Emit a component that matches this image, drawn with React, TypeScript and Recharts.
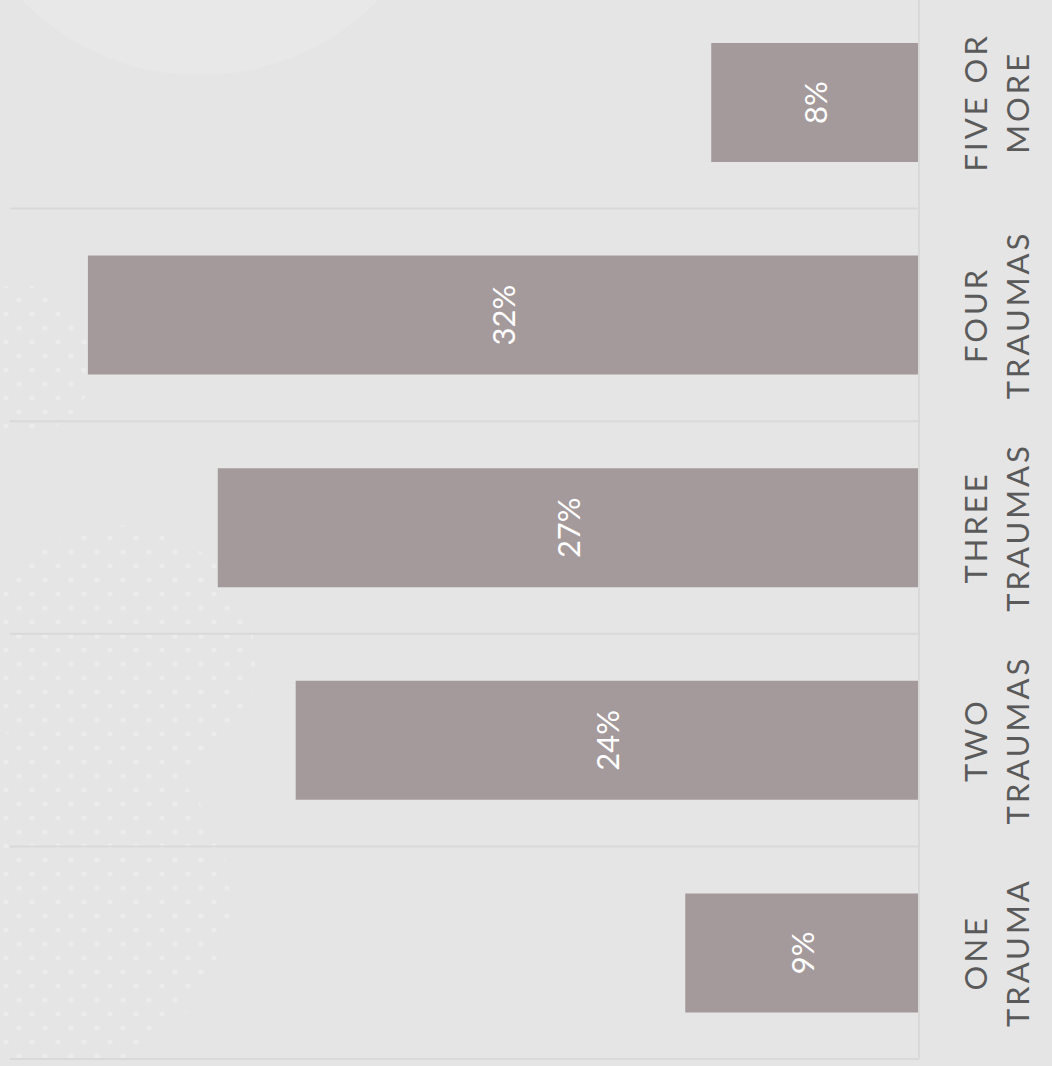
import { Bar, BarChart, CartesianGrid, LabelList, XAxis, YAxis } from "recharts";

const categories = ["ONE TRAUMA", "TWO TRAUMAS", "THREE TRAUMAS", "FOUR TRAUMAS", "FIVE OR MORE"];
const labelLines = [
  ["ONE", "TRAUMA"],
  ["TWO", "TRAUMAS"],
  ["THREE", "TRAUMAS"],
  ["FOUR", "TRAUMAS"],
  ["FIVE OR", "MORE"],
];
const shares = [9, 24, 27, 32, 8];

const data = categories.map((name, i) => ({ name, value: shares[i] }));

const FONT = "Lato, 'Open Sans', sans-serif";

const CategoryTick = (props: any) => {
  const { x, y, index } = props;
  const lines = labelLines[index] ?? [];
  return (
    <g transform={`translate(${x}, ${y}) rotate(-90)`}>
      {lines.map((line, i) => (
        <text
          key={line}
          x={0}
          y={56 + i * 42}
          textAnchor="middle"
          dominantBaseline="central"
          fill="#5a5a5a"
          fontSize={31}
          fontWeight={400}
          letterSpacing={3}
          fontFamily={FONT}
        >
          {line}
        </text>
      ))}
    </g>
  );
};

const ValueLabel = (props: any) => {
  const { x, y, width, height, value } = props;
  const cx = x + width / 2;
  const cy = y + height / 2;
  return (
    <text
      transform={`translate(${cx}, ${cy}) rotate(-90)`}
      textAnchor="middle"
      dominantBaseline="central"
      fill="#ffffff"
      fontSize={31}
      fontWeight={400}
      fontFamily={FONT}
    >
      {value}%
    </text>
  );
};

// faint dotted decoration in the background, bottom-left
const Dots = () => (
  <svg width={1052} height={1066} style={{ position: "absolute", left: 0, top: 0 }}>
    <defs>
      <pattern id="dots" width={26} height={28} patternUnits="userSpaceOnUse">
        <circle cx={6} cy={6} r={2.6} fill="#ececec" />
        <circle cx={19} cy={20} r={2.6} fill="#ececec" />
      </pattern>
      <clipPath id="blobs">
        <circle cx={20} cy={360} r={75} />
        <circle cx={120} cy={660} r={135} />
        <circle cx={60} cy={900} r={170} />
      </clipPath>
    </defs>
    <rect x={0} y={280} width={300} height={786} fill="url(#dots)" clipPath="url(#blobs)" />
  </svg>
);

export default function App() {
  return (
    <div
      style={{
        position: "absolute",
        left: 0,
        top: 0,
        width: 1052,
        height: 1066,
        background: "#e5e5e5",
        overflow: "hidden",
      }}
    >
      <div
        style={{
          position: "absolute",
          left: -40,
          top: -380,
          width: 480,
          height: 455,
          borderRadius: "50%",
          background: "#e8e8e8",
        }}
      />
      <Dots />
      <div style={{ position: "absolute", left: 0, top: -4 }}>
        <BarChart
          width={1052}
          height={1070}
          data={data}
          layout="vertical"
          margin={{ top: 0, right: 0, left: 10, bottom: 7 }}
          barSize={119}
        >
          <CartesianGrid
            vertical={false}
            stroke="#d9d9d9"
            strokeWidth={2}
            horizontalCoordinatesGenerator={({ offset }: any) =>
              categories.map((_, i) => offset.top + ((i + 1) * offset.height) / categories.length)
            }
          />
          <XAxis type="number" domain={[0, 35]} reversed hide />
          <YAxis
            type="category"
            dataKey="name"
            orientation="right"
            reversed
            width={133}
            tickSize={0}
            tickMargin={0}
            tickLine={false}
            axisLine={{ stroke: "#d9d9d9", strokeWidth: 2 }}
            tick={<CategoryTick />}
            interval={0}
          />
          <Bar dataKey="value" fill="#a59a9b" isAnimationActive={false}>
            <LabelList dataKey="value" content={<ValueLabel />} />
          </Bar>
        </BarChart>
      </div>
    </div>
  );
}
